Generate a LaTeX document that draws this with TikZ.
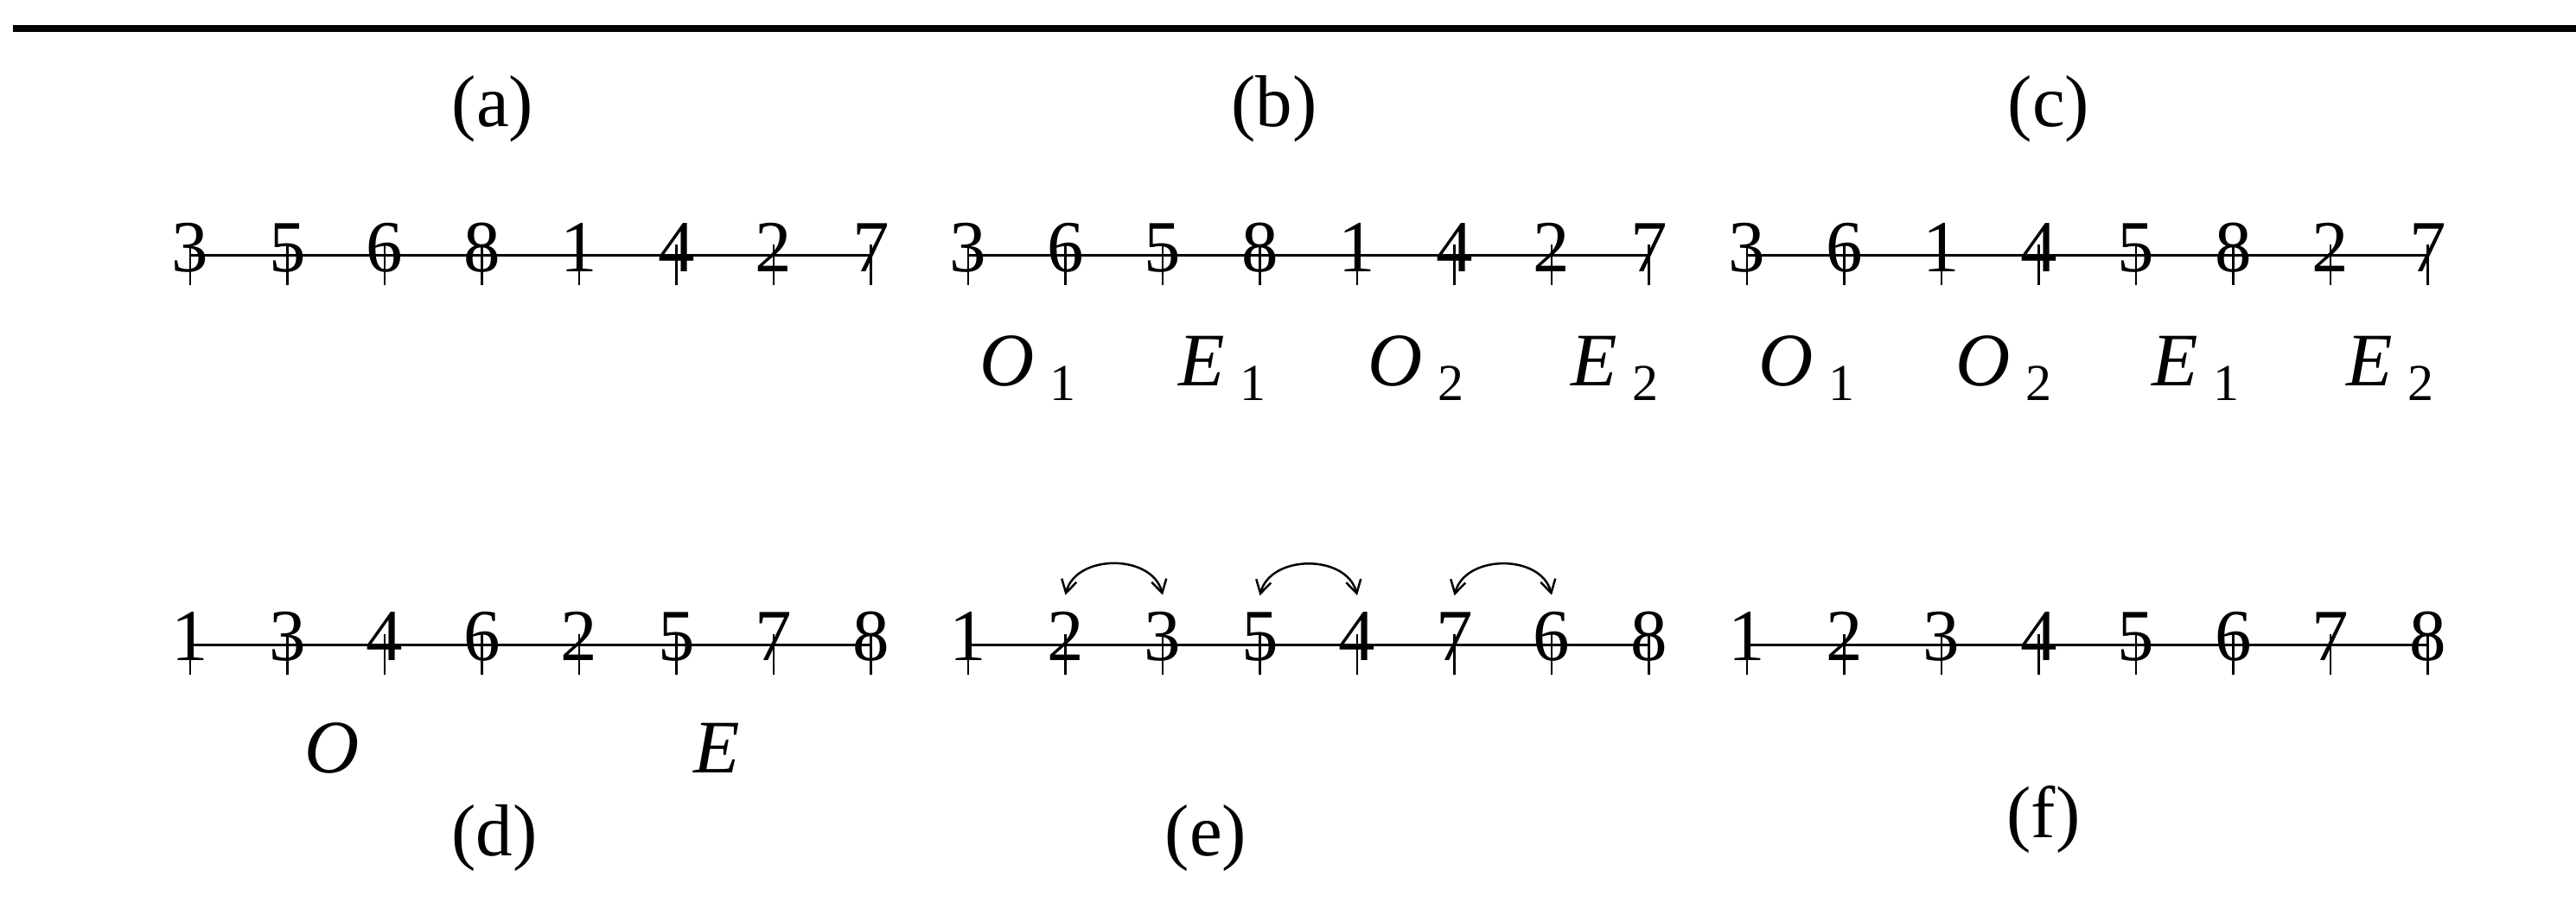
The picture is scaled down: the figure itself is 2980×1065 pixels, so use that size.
\documentclass[tikz,border=0pt]{standalone}
\usepackage{fontspec}
\setmainfont{Liberation Serif}
\usetikzlibrary{arrows.meta}
\newcommand\grplab[2]{#1\kern3.5pt\raisebox{-3.4pt}{\upshape\fontsize{12}{12}\selectfont #2}}
\begin{document}
\begin{tikzpicture}[x=0.2pt,y=-0.2pt,
  digit/.style={anchor=base,inner sep=0pt,font=\fontsize{17}{17}\selectfont},
  caption/.style={anchor=base,inner sep=0pt,font=\fontsize{17}{17}\selectfont},
  grp/.style={anchor=base,inner sep=0pt,font=\fontsize{17.5}{17.5}\selectfont\itshape},
  rowline/.style={line width=0.6pt},
  tickline/.style={line width=0.5pt},
  swaparc/.style={line width=0.5pt,{Straight Barb[length=3pt,width=3.5pt]}-{Straight Barb[length=3pt,width=3.5pt]}},
]
\useasboundingbox (0,0) rectangle (2980,1065);
\coordinate (ruleL) at (15,33);
\coordinate (ruleR) at (2980,33);
\draw[line width=1.6pt] (ruleL) -- (ruleR);

\foreach \p/\xo/\ly/\bl/\ds in {a/220/295/314/{3,5,6,8,1,4,2,7}, b/1120/295/314/{3,6,5,8,1,4,2,7}, c/2021/295/314/{3,6,1,4,5,8,2,7}, d/220/746/764/{1,3,4,6,2,5,7,8}, e/1120/746/764/{1,2,3,5,4,7,6,8}, f/2021/746/764/{1,2,3,4,5,6,7,8}}{
  \foreach \d [count=\i] in \ds {
    \coordinate (\p\i) at ({\xo+112.5*(\i-1)},\ly);
    \node[digit] (n\p\i) at ({\xo+112.5*(\i-1)},\bl) {\d};
    \draw[tickline] ([yshift=2.4pt]\p\i) -- ([yshift=-7pt]\p\i);
  }
  \draw[rowline] (\p1) -- (\p8);
}

\node[caption] (la) at (570,147) {(a)};
\node[caption] (lb) at (1474,147) {(b)};
\node[caption] (lc) at (2370,147) {(c)};
\node[caption] (ld) at (572,990) {(d)};
\node[caption] (le) at (1395,990) {(e)};
\node[caption] (lf) at (2364,969) {(f)};

\node[grp] (ob1) at (1189,446) {\grplab{O}{1}};
\node[grp] (eb1) at (1414,446) {\grplab{E}{1}};
\node[grp] (ob2) at (1638,446) {\grplab{O}{2}};
\node[grp] (eb2) at (1868,446) {\grplab{E}{2}};
\node[grp] (oc1) at (2090,446) {\grplab{O}{1}};
\node[grp] (oc2) at (2318,446) {\grplab{O}{2}};
\node[grp] (ec1) at (2540,446) {\grplab{E}{1}};
\node[grp] (ec2) at (2765,446) {\grplab{E}{2}};
\node[grp] (od) at (384,894) {O};
\node[grp] (ed) at (829,894) {E};

\draw[swaparc] ([yshift=3.6pt]ne2.north) .. controls +(12,-48) and +(-12,-48) .. ([yshift=3.6pt]ne3.north);
\draw[swaparc] ([yshift=3.6pt]ne4.north) .. controls +(12,-48) and +(-12,-48) .. ([yshift=3.6pt]ne5.north);
\draw[swaparc] ([yshift=3.6pt]ne6.north) .. controls +(12,-48) and +(-12,-48) .. ([yshift=3.6pt]ne7.north);
\end{tikzpicture}
\end{document}
